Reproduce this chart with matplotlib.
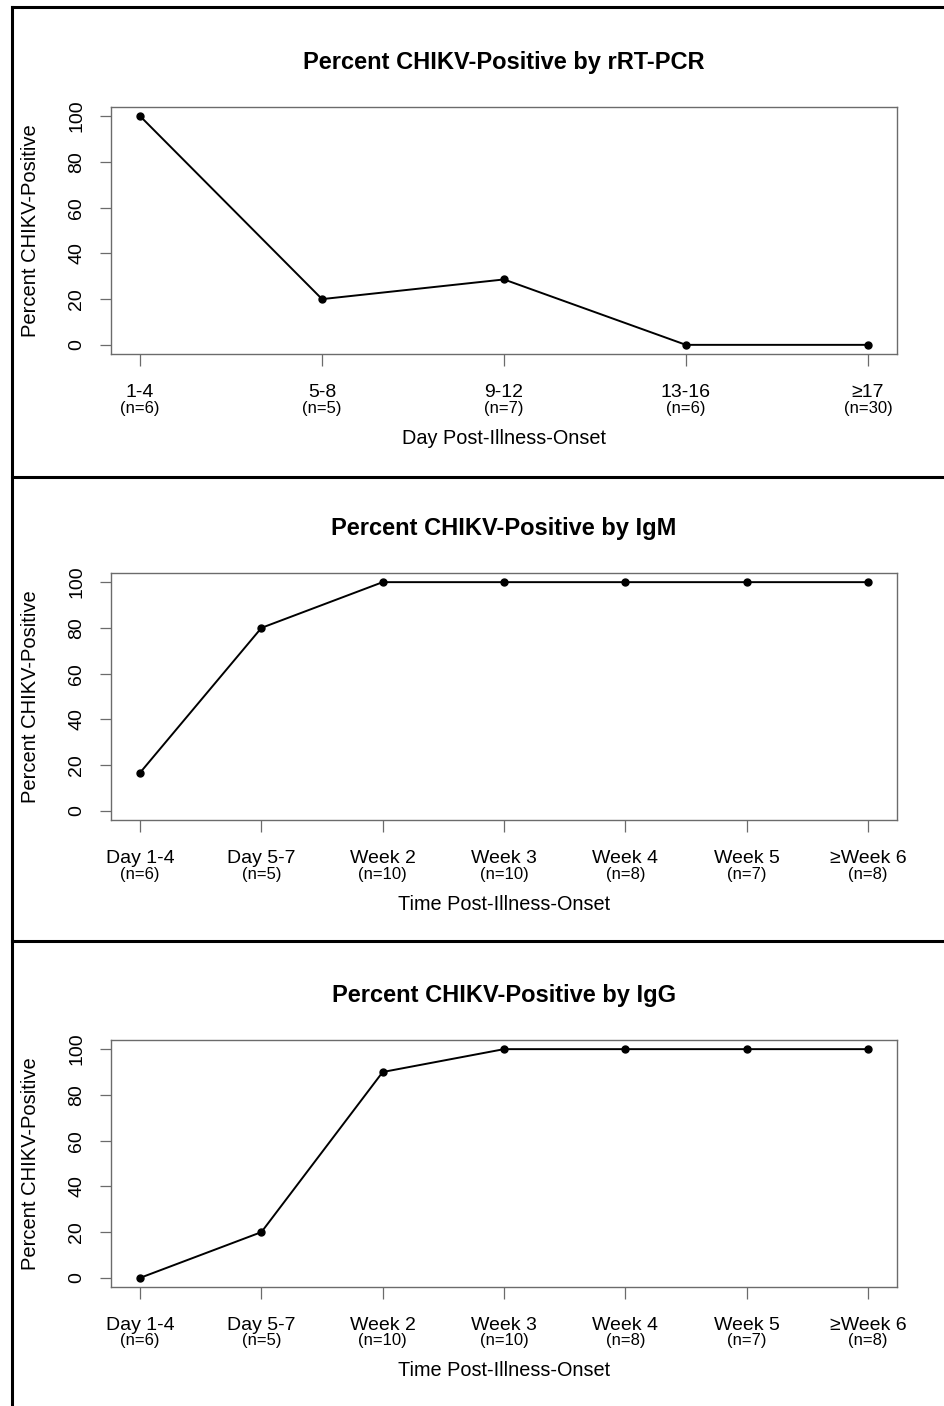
#Percent CHIKV-positive by test, three stacked panels

import matplotlib.pyplot as plt
from matplotlib.lines import Line2D

plt.rcParams['font.family'] = ['Liberation Sans', 'DejaVu Sans']

pcr_labels = ["1-4", "5-8", "9-12", "13-16", "≥17"]
pcr_n = ["(n=6)", "(n=5)", "(n=7)", "(n=6)", "(n=30)"]
pcr_pct = [100, 20, 28.6, 0, 0]

sero_labels = ["Day 1-4", "Day 5-7", "Week 2", "Week 3", "Week 4", "Week 5", "≥Week 6"]
sero_n = ["(n=6)", "(n=5)", "(n=10)", "(n=10)", "(n=8)", "(n=7)", "(n=8)"]
igm_pct = [16.7, 80, 100, 100, 100, 100, 100]
igg_pct = [0, 20, 90, 100, 100, 100, 100]

panels = [
    ("Percent CHIKV-Positive by rRT-PCR", pcr_labels, pcr_n, pcr_pct, "Day Post-Illness-Onset"),
    ("Percent CHIKV-Positive by IgM", sero_labels, sero_n, igm_pct, "Time Post-Illness-Onset"),
    ("Percent CHIKV-Positive by IgG", sero_labels, sero_n, igg_pct, "Time Post-Illness-Onset"),
]

W, H = 944, 1406
fig = plt.figure(figsize=(W / 100, H / 100), dpi=100)

box_tops = [107, 573, 1040]
bh = 247
left, right = 111, 897
bw = right - left
box_col = '#6b6b6b'

for (title, labels, ns, pct, xlab), top in zip(panels, box_tops):
    ax = fig.add_axes([left / W, 1 - (top + bh) / H, bw / W, bh / H])
    x = list(range(1, len(labels) + 1))
    ax.plot(x, pct, color='black', lw=1.4, marker='o', markersize=5)
    k = len(labels) - 1
    ax.set_xlim(1 - 0.04 * k, len(labels) + 0.04 * k)
    ax.set_ylim(-4, 104)
    ax.set_yticks([0, 20, 40, 60, 80, 100])
    ax.set_yticklabels(['0', '20', '40', '60', '80', '100'], rotation=90, va='center')
    ax.set_xticks(x)
    ax.set_xticklabels(labels, fontsize=14)
    for sp in ax.spines.values():
        sp.set_color(box_col)
        sp.set_linewidth(1.0)
    ax.tick_params(axis='y', length=8, width=0.9, color=box_col, labelsize=14, pad=10.5)
    ax.tick_params(axis='x', length=8.6, width=0.9, color=box_col, pad=13)
    for xi, n in zip(x, ns):
        ax.text(xi, -54 / bh, n, transform=ax.get_xaxis_transform(), ha='center', va='center',
                fontsize=12)
    ax.set_xlabel(xlab, fontsize=14.3)
    ax.xaxis.set_label_coords(0.5, -84 / bh)
    ax.xaxis.label.set_va('center')
    ax.set_ylabel("Percent CHIKV-Positive", fontsize=14.5)
    ax.yaxis.set_label_coords(-80 / bw, 0.5)
    ax.yaxis.label.set_va('center')
    ax.set_title(title, fontsize=17, fontweight='bold', pad=27.5)

# panel frame lines
lw = 2.2
fig.add_artist(Line2D([12 / W, 12 / W], [0, 1 - 7 / H], color='black', lw=lw, transform=fig.transFigure))
for yy in [7, 477, 941]:
    fig.add_artist(Line2D([12 / W, 1], [1 - yy / H, 1 - yy / H], color='black', lw=lw,
                          transform=fig.transFigure))

plt.savefig('out.png', dpi=100)
plt.close()
